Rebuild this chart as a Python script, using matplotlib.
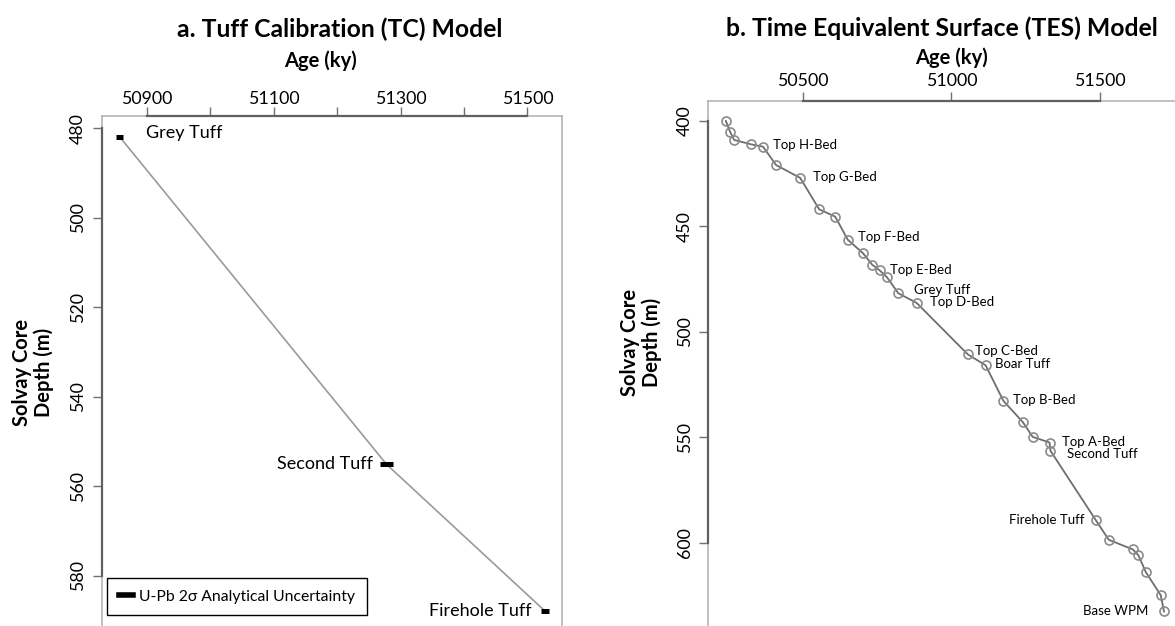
"""Two-panel age-depth figure: TC model (left) and TES model (right)."""
import matplotlib
matplotlib.use("Agg")
import matplotlib.pyplot as plt
from matplotlib.lines import Line2D

plt.rcParams["font.family"] = ["Lato", "DejaVu Sans"]

W, H = 1175, 626

# ---- panel a: tuff calibration ----
tc_names = ["Grey Tuff", "Second Tuff", "Firehole Tuff"]
tc_age = [50857, 51278, 51528]
tc_depth = [481.9, 555.1, 587.9]
tc_err = [6, 10, 6]
tc_xticks = [50900, 51000, 51100, 51200, 51300, 51400, 51500]
tc_xlabels = ["50900", "", "51100", "", "51300", "", "51500"]
tc_yticks = [480, 500, 520, 540, 560, 580]

# ---- panel b: time equivalent surfaces ----
tes_age = [50241, 50255, 50269, 50326, 50366, 50410, 50491, 50555, 50609, 50651,
           50703, 50734, 50758, 50783, 50821, 50883, 51055, 51115, 51175, 51240,
           51273, 51330, 51333, 51486, 51529, 51610, 51629, 51654, 51704, 51715]
tes_depth = [400.0, 405.1, 409.0, 411.1, 412.2, 420.9, 427.0, 441.9, 445.4, 456.3,
             462.8, 468.3, 470.8, 474.1, 481.7, 486.3, 510.7, 515.9, 532.8, 542.8,
             549.8, 552.5, 556.4, 589.4, 598.6, 603.2, 606.0, 614.0, 624.9, 632.6]
tes_labels = {4: "Top H-Bed", 6: "Top G-Bed", 9: "Top F-Bed", 13: "Top E-Bed",
              14: "Grey Tuff", 15: "Top D-Bed", 16: "Top C-Bed", 17: "Boar Tuff",
              18: "Top B-Bed", 21: "Top A-Bed", 22: "Second Tuff",
              23: "Firehole Tuff", 29: "Base WPM"}
# label offsets in pixels (dx, dy), negative dx -> right aligned
tes_offsets = {4: (10, 2), 6: (13, 1), 9: (10, 3), 13: (3, 7), 14: (16, 3),
               15: (13, 1), 16: (7, 3), 17: (9, 1), 18: (10, 1), 21: (12, 1),
               22: (17, -3), 23: (-12, 0), 29: (-16, 0)}
tes_xticks = [50500, 51000, 51500]
tes_yticks = [400, 450, 500, 550, 600]

PX = 72 / 100  # points per pixel at dpi 100


def style_axes(ax, xticks, yticks):
    ax.xaxis.tick_top()
    ax.set_xticks(xticks)
    ax.set_yticks(yticks)
    ax.tick_params(axis="both", direction="out", length=6.3, width=1.0,
                   color="#707070", labelsize=12.8)
    ax.tick_params(axis="y", labelrotation=90, pad=5)
    for lab in ax.get_yticklabels():
        lab.set_va("center")
    for s in ["top", "left", "right"]:
        ax.spines[s].set_color("#b5b5b5")
        ax.spines[s].set_linewidth(1.2)
    ax.spines["bottom"].set_visible(False)
    # R-style axis line spanning first to last tick
    ax.plot([xticks[0], xticks[-1]], [1, 1], transform=ax.get_xaxis_transform(),
            color="#606060", lw=1.6, clip_on=False, zorder=5)
    ax.plot([0, 0], [yticks[0], yticks[-1]], transform=ax.get_yaxis_transform(),
            color="#606060", lw=1.6, clip_on=False, zorder=5)


fig = plt.figure(figsize=(W / 100, H / 100), dpi=100)

# ---------------- panel a ----------------
ax1 = fig.add_axes([101.7 / W, 0, 460.6 / W, 510 / H])
ax1.plot(tc_age, tc_depth, color="#9a9a9a", lw=1.2, zorder=2)
ax1.errorbar(tc_age, tc_depth, xerr=tc_err, fmt="none", ecolor="black",
             elinewidth=3.6, capsize=0, zorder=3)
ax1.set_xlim(50829, 51555)
ax1.set_ylim(591.2, 477.3)
style_axes(ax1, tc_xticks, tc_yticks)
ax1.set_xticklabels(tc_xlabels)
ax1.tick_params(axis="x", pad=0)

ax1.annotate(tc_names[0], (tc_age[0], tc_depth[0]), xytext=(27 * PX, 4 * PX),
             textcoords="offset points", ha="left", va="center", fontsize=13)
for i in (1, 2):
    ax1.annotate(tc_names[i], (tc_age[i], tc_depth[i]), xytext=(-14 * PX, 0),
                 textcoords="offset points", ha="right", va="center", fontsize=13)

handle = Line2D([], [], color="black", lw=4)
leg = ax1.legend([handle], ["U-Pb 2σ Analytical Uncertainty"], loc="lower left",
                 bbox_to_anchor=(0.012, 0.021), borderaxespad=0, fontsize=11.3,
                 handlelength=0.9, handletextpad=0.4, fancybox=False,
                 framealpha=1, borderpad=0.75)
leg.get_frame().set_edgecolor("black")
leg.get_frame().set_linewidth(1.0)

fig.text(340 / W, 1 - 29 / H, "a. Tuff Calibration (TC) Model", ha="center",
         va="center", fontsize=17.8, fontweight="bold")
fig.text(320 / W, 1 - 61 / H, "Age (ky)", ha="center", va="center",
         fontsize=14.5, fontweight="bold")
fig.text(33 / W, 1 - 372 / H, "Solvay Core\nDepth (m)", ha="center", va="center",
         rotation=90, fontsize=14.5, fontweight="bold", multialignment="center",
         linespacing=1.05)

# ---------------- panel b ----------------
ax2 = fig.add_axes([708.3 / W, 0, 466.7 / W, 525.3 / H])
ax2.plot(tes_age, tes_depth, color="#6e6e6e", lw=1.3, marker="o", ms=6.5,
         mfc="none", mec="#8a8a8a", mew=1.2, zorder=3)
ax2.set_xlim(50182, 51752)
ax2.set_ylim(639.5, 390.4)
style_axes(ax2, tes_xticks, tes_yticks)
ax2.spines["right"].set_visible(False)
ax2.tick_params(axis="x", pad=1.8)

for i, name in tes_labels.items():
    dx, dy = tes_offsets[i]
    ax2.annotate(name, (tes_age[i], tes_depth[i]), xytext=(dx * PX, dy * PX),
                 textcoords="offset points", ha="left" if dx > 0 else "right",
                 va="center", fontsize=9.5)

fig.text(942 / W, 1 - 28 / H, "b. Time Equivalent Surface (TES) Model",
         ha="center", va="center", fontsize=17.8, fontweight="bold")
fig.text(951 / W, 1 - 58 / H, "Age (ky)", ha="center", va="center",
         fontsize=14.5, fontweight="bold")
fig.text(641 / W, 1 - 342 / H, "Solvay Core\nDepth (m)", ha="center", va="center",
         rotation=90, fontsize=14.5, fontweight="bold", multialignment="center",
         linespacing=1.05)

fig.savefig("out.png", dpi=100)
